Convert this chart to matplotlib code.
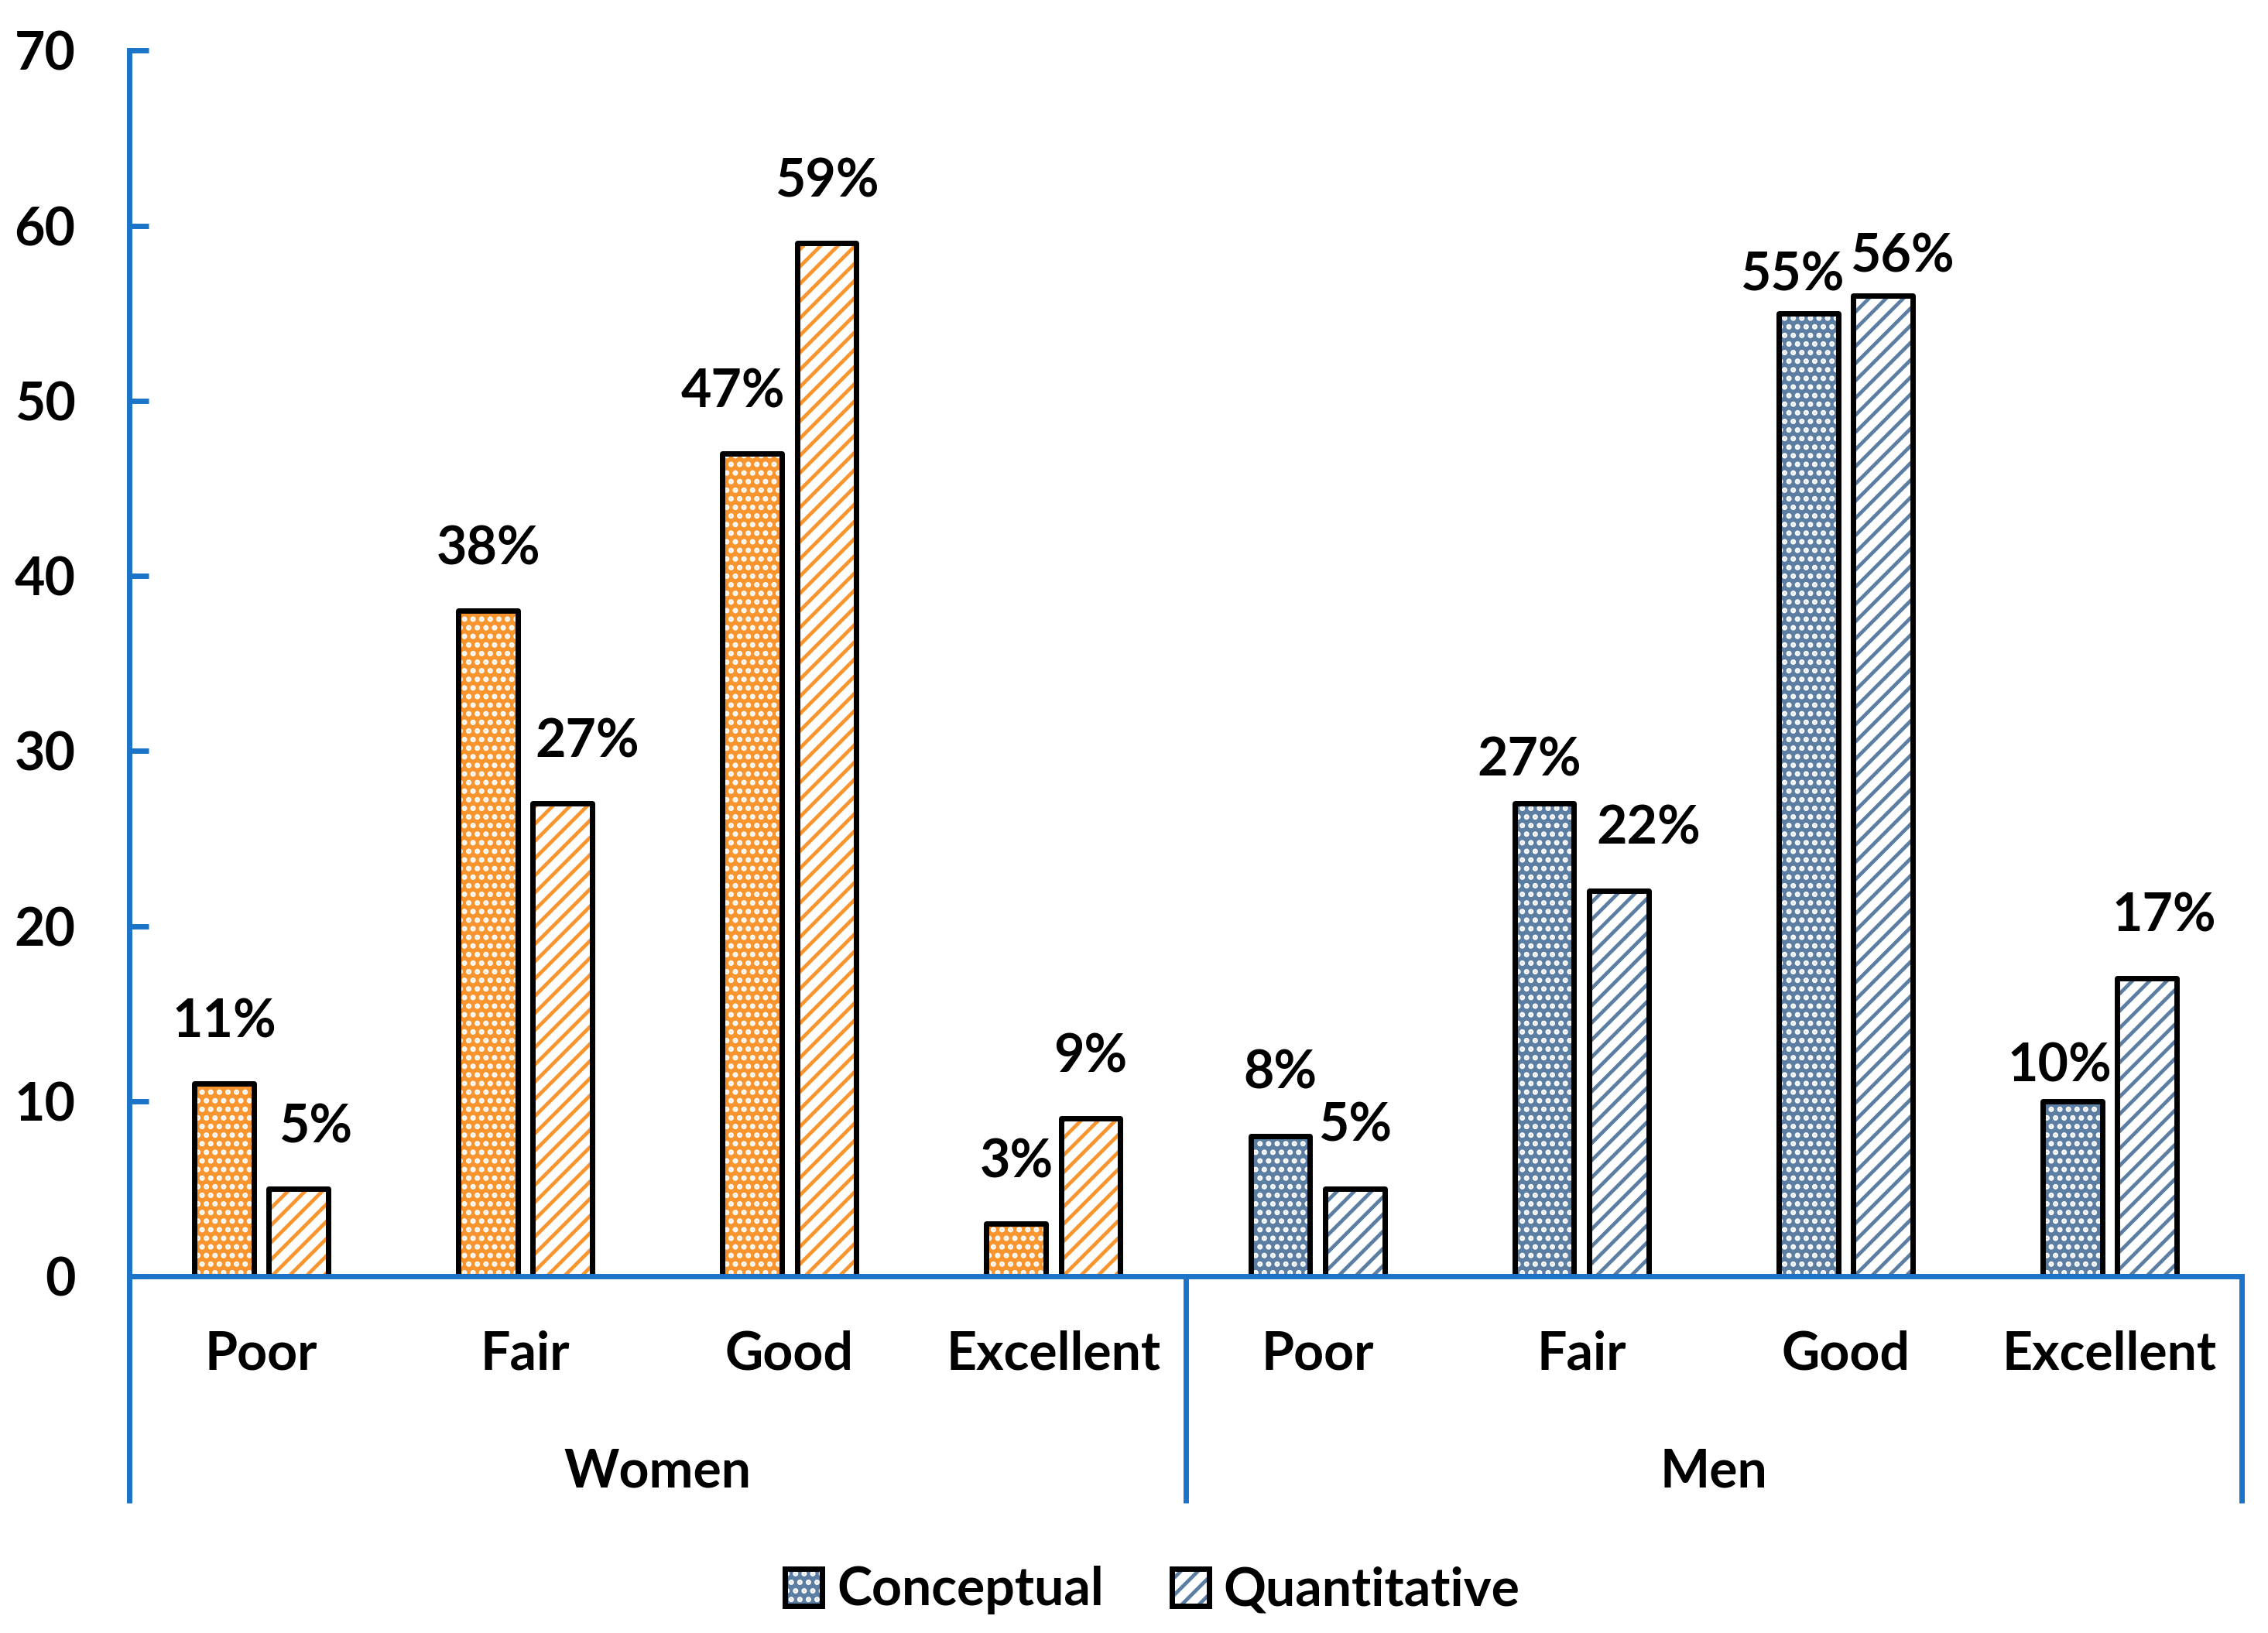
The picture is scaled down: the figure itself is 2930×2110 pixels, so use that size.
import matplotlib
matplotlib.use("Agg")
import matplotlib.pyplot as plt
import matplotlib.transforms as mtransforms
from matplotlib.patches import Patch
import numpy as np

categories = ["Poor", "Fair", "Good", "Excellent"]
groups = ["Women", "Men"]
women_conceptual = [11, 38, 47, 3]
women_quantitative = [5, 27, 59, 9]
men_conceptual = [8, 27, 55, 10]
men_quantitative = [5, 22, 56, 17]
y_ticks = [0, 10, 20, 30, 40, 50, 60, 70]

# manual nudges of the value labels (points), as in the original chart
shift_conceptual = [(0, 28.5), (0, 28.5), (-9, 28.5), (0, 28.5),
                    (0, 29), (-7, 20), (-7.5, 17.5), (-6, 16)]
shift_quantitative = [(8, 28.5), (11.5, 28.5), (0, 28.5), (0, 28.5),
                      (0, 29), (14, 29), (9, 18), (8, 29)]

plt.rcParams["font.family"] = ["Lato", "DejaVu Sans"]
plt.rcParams["font.weight"] = "bold"
plt.rcParams["hatch.linewidth"] = 1.7

axis_blue = "#1B74C8"
orange = "#F8952F"
steel = "#5B7EA2"
fs = 24.5
width = 0.225
off = 0.141

fig = plt.figure(figsize=(14.65, 10.55), dpi=200)
ax = fig.add_axes([0.057, 0.2185, 0.9314, 0.7505])

x = np.arange(len(categories) * len(groups))
conceptual = women_conceptual + men_conceptual
quantitative = women_quantitative + men_quantitative
colors = [orange] * len(categories) + [steel] * len(categories)


def draw_bars(xs, values, solid):
    for xi, v, c in zip(xs, values, colors):
        if solid:
            ax.bar(xi, v, width, color=c, linewidth=0)
            ax.bar(xi, v, width, color="none", edgecolor="white", hatch="...", linewidth=0)
        else:
            ax.bar(xi, v, width, color="white", linewidth=0)
            ax.bar(xi, v, width, color="none", edgecolor=c, hatch="///", linewidth=0)
        b = ax.bar(xi, v, width, color="none", edgecolor="black", linewidth=2.5)
        b[0].set_joinstyle("round")


def draw_labels(xs, values, shifts):
    for xi, v, (dx, dy) in zip(xs, values, shifts):
        ax.annotate(f"{v}%", (xi, v), xytext=(dx, dy), textcoords="offset points",
                    ha="center", va="center", fontsize=fs, fontweight="bold")


draw_bars(x - off, conceptual, True)
draw_bars(x + off, quantitative, False)
draw_labels(x - off, conceptual, shift_conceptual)
draw_labels(x + off, quantitative, shift_quantitative)

ax.set_xlim(-0.5, len(x) - 0.5)
ax.set_ylim(0, 70)
ax.set_yticks(y_ticks)
ax.set_yticklabels([str(t) for t in y_ticks], fontsize=fs, fontweight="bold")
ax.tick_params(axis="y", direction="in", length=9, width=2.5, color=axis_blue, pad=25)
ax.set_xticks(x)
ax.set_xticklabels(categories * len(groups), fontsize=fs, fontweight="bold")
ax.tick_params(axis="x", length=0, pad=25)

for s in ["top", "right"]:
    ax.spines[s].set_visible(False)
for s in ["left", "bottom"]:
    ax.spines[s].set_color(axis_blue)
    ax.spines[s].set_linewidth(2.5)

# group separators below the category axis
trans = mtransforms.blended_transform_factory(ax.transData, ax.transAxes)
for k in range(len(groups) + 1):
    xv = -0.5 + k * len(categories)
    ax.plot([xv, xv], [0, -0.185], transform=trans, color=axis_blue, lw=2.5,
            clip_on=False, solid_capstyle="butt")
for k, g in enumerate(groups):
    xc = -0.5 + (k + 0.5) * len(categories)
    ax.text(xc, -0.16, g, transform=trans, ha="center", va="center",
            fontsize=fs, fontweight="bold")

handles = [
    (Patch(facecolor=steel, linewidth=0),
     Patch(facecolor="none", edgecolor="white", hatch="...", linewidth=0),
     Patch(facecolor="none", edgecolor="black", linewidth=2.5)),
    (Patch(facecolor="white", linewidth=0),
     Patch(facecolor="none", edgecolor=steel, hatch="///", linewidth=0),
     Patch(facecolor="none", edgecolor="black", linewidth=2.5)),
]
fig.legend(handles, ["Conceptual", "Quantitative"], loc="center",
           bbox_to_anchor=(1489 / 2930, 1 - 2055 / 2110), ncol=2, frameon=False,
           prop={"size": fs, "weight": "bold"}, handlelength=0.7, handleheight=0.7,
           handletextpad=0.28, columnspacing=1.3)

fig.savefig("out.png", dpi=200)
